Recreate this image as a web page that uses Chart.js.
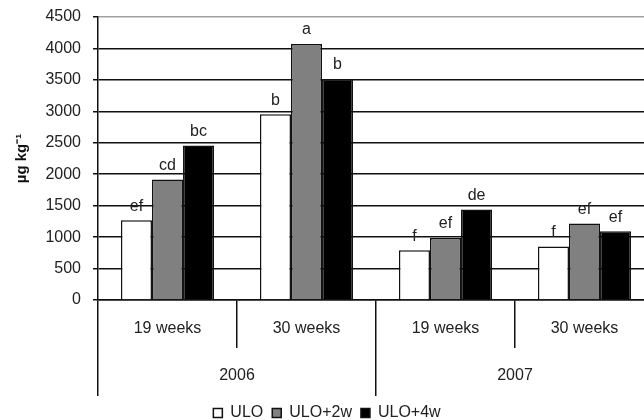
<!DOCTYPE html>
<html>
<head>
<meta charset="utf-8">
<script src="https://cdn.jsdelivr.net/npm/chart.js@4"></script>
<style>
  html, body { margin: 0; padding: 0; background: #fff; overflow: hidden; }
  #wrap { width: 662px; height: 420px; }
</style>
</head>
<body>
<div id="wrap"><canvas id="myChart"></canvas></div>
<script>
// storage time / season categories
const storageTimes = ['19 weeks', '30 weeks', '19 weeks', '30 weeks'];
const seasons = ['2006', '2007'];

// µg kg-1 per treatment
const ulo = [1270, 2955, 790, 850];
const ulo2w = [1915, 4070, 985, 1215];
const ulo4w = [2455, 3515, 1440, 1095];

// significance letters (same order as datasets)
const uloLetters = ['ef', 'b', 'f', 'f'];
const ulo2wLetters = ['cd', 'a', 'ef', 'ef'];
const ulo4wLetters = ['bc', 'b', 'de', 'ef'];
const letters = [uloLetters, ulo2wLetters, ulo4wLetters];

Chart.defaults.font.family = '"Liberation Sans", Arial, sans-serif';

const letterPlugin = {
    id: 'letters',
    afterDatasetsDraw(chart) {
        const c = chart.ctx;
        c.save();
        c.font = '16px "Liberation Sans", Arial, sans-serif';
        c.fillStyle = '#222';
        c.textAlign = 'center';
        c.textBaseline = 'middle';
        chart.data.datasets.forEach((ds, i) => {
            chart.getDatasetMeta(i).data.forEach((bar, j) => {
                c.fillText(letters[i][j], bar.x, bar.y - 14);
            });
        });
        c.restore();
    }
};

const ctx = document.getElementById('myChart').getContext('2d');
const myChart = new Chart(ctx, {
    type: 'bar',
    data: {
        labels: storageTimes,
        datasets: [
            { label: 'ULO', data: ulo, backgroundColor: '#ffffff', borderColor: '#111', borderWidth: 1.5 },
            { label: 'ULO+2w', data: ulo2w, backgroundColor: '#808080', borderColor: '#111', borderWidth: 1.5 },
            { label: 'ULO+4w', data: ulo4w, backgroundColor: '#000000', borderColor: '#111', borderWidth: 1.5 },
        ],
    },
    options: {
        responsive: true,
        maintainAspectRatio: false,
        animation: false,
        layout: { padding: { top: 17, right: 8, bottom: -11, left: 0 } },
        datasets: { bar: { barPercentage: 1, categoryPercentage: 0.67 } },
        scales: {
            y: {
                min: 0,
                max: 4500,
                ticks: {
                    stepSize: 500,
                    color: '#222',
                    font: { size: 16 },
                    padding: 12,
                    callback: v => String(v),
                },
                grid: {
                    color: c => (c.tick && c.tick.value === 4500 ? '#a0a0a0' : '#111'),
                    lineWidth: 1.5,
                    tickLength: 5,
                    tickColor: '#111',
                },
                border: { color: '#111', width: 1.5 },
                title: {
                    display: true,
                    text: 'µg kg⁻¹',
                    color: '#111',
                    font: { size: 15, weight: 'bold' },
                    padding: { top: 13, bottom: 0 },
                },
                afterFit: s => {
                    s.width = 98;
                    s.paddingTop = 0;
                    s.paddingBottom = 0;
                },
            },
            x: {
                weight: 0,
                grid: { drawOnChartArea: false, tickLength: 48, color: '#111', lineWidth: 1.5, offset: true },
                border: { color: '#111', width: 1.5 },
                ticks: { color: '#222', font: { size: 16 }, padding: -29, maxRotation: 0, autoSkip: false },
                afterFit: s => { s.height = 48; },
            },
            x2: {
                type: 'category',
                labels: seasons,
                position: 'bottom',
                weight: 1,
                offset: true,
                grid: { drawOnChartArea: false, tickLength: 48, color: '#111', lineWidth: 1.5, offset: true },
                border: { display: false },
                ticks: { color: '#222', font: { size: 16 }, padding: -30, maxRotation: 0 },
                afterFit: s => { s.height = 48; },
            },
        },
        plugins: {
            legend: {
                position: 'bottom',
                labels: { boxWidth: 9, boxHeight: 9, color: '#222', font: { size: 16 }, padding: 9 },
            },
            tooltip: { enabled: false },
        },
    },
    plugins: [letterPlugin],
});
</script>
</body>
</html>
